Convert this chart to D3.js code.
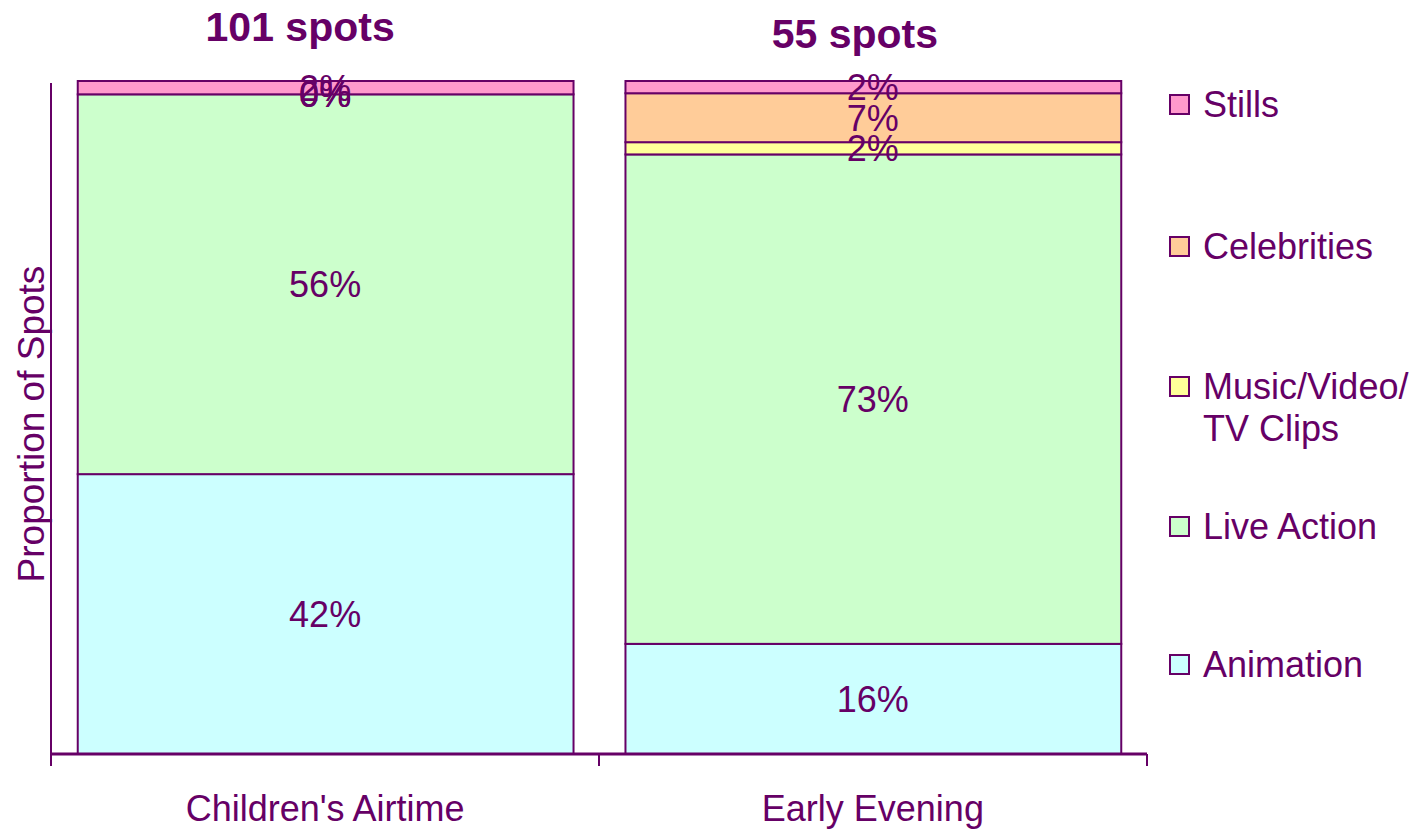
<!DOCTYPE html>
<html><head><meta charset="utf-8">
<script src="https://cdn.jsdelivr.net/npm/d3@7"></script>
<style>body{margin:0;background:#fff}svg{display:block}text{font-family:"Liberation Sans",Arial,sans-serif;fill:#660066}</style>
</head><body><svg id="c" width="1423" height="829"></svg>
<script>
const categories = ["Children's Airtime", "Early Evening"];
const totals = ["101 spots", "55 spots"];
const seriesNames = ["Animation", "Live Action", "Music/Video/TV Clips", "Celebrities", "Stills"];
const animation = [42, 9];
const liveAction = [57, 40];
const musicClips = [0, 1];
const celebrities = [0, 4];
const stills = [2, 1];
const spotCounts = [101, 55];
const legendLabels = [["Stills"], ["Celebrities"], ["Music/Video/", "TV Clips"], ["Live Action"], ["Animation"]];
const colors = ["#CCFFFF", "#CCFFCC", "#FFFF99", "#FFCC99", "#FF99CC"];

const svg = d3.select("#c");
const purple = "#660066";
const m = {left: 51, right: 1147, top: 81, bottom: 754};
const fs = 36;

const rows = categories.map((c, i) => {
  const o = {cat: c};
  const vals = [animation[i], liveAction[i], musicClips[i], celebrities[i], stills[i]];
  seriesNames.forEach((s, k) => o[s] = vals[k] / spotCounts[i]);
  return o;
});
const stack = d3.stack().keys(seriesNames)(rows);

const x = d3.scaleBand().domain(categories).range([m.left, m.right]).paddingInner(0.093).paddingOuter(0.047);
const y = d3.scaleLinear().domain([0, 1]).range([m.bottom, m.top]);

stack.forEach((layer, k) => {
  svg.append("g").selectAll("rect").data(layer).join("rect")
    .attr("x", d => x(d.data.cat) + 1)
    .attr("width", x.bandwidth() - 1)
    .attr("y", d => y(d[1]))
    .attr("height", d => y(d[0]) - y(d[1]))
    .attr("fill", colors[k]).attr("stroke", purple).attr("stroke-width", 2);
});
stack.forEach((layer, k) => {
  svg.append("g").selectAll("text").data(layer).join("text")
    .attr("x", d => x(d.data.cat) + x.bandwidth() / 2)
    .attr("y", d => (y(d[0]) + y(d[1])) / 2)
    .attr("dy", "0.36em")
    .attr("text-anchor", "middle").attr("font-size", fs)
    .text(d => Math.round((d[1] - d[0]) * 100) + "%");
});

// axes
svg.append("line").attr("x1", m.left).attr("x2", m.left).attr("y1", m.top + 2).attr("y2", m.bottom).attr("stroke", purple).attr("stroke-width", 2);
svg.append("line").attr("x1", m.left).attr("x2", m.right).attr("y1", m.bottom).attr("y2", m.bottom).attr("stroke", purple).attr("stroke-width", 3);
const ticks = [m.left, (x(categories[0]) + x.bandwidth() + x(categories[1])) / 2, m.right];
svg.append("g").selectAll("line").data(ticks).join("line")
  .attr("x1", d => d).attr("x2", d => d).attr("y1", m.bottom).attr("y2", m.bottom + 12)
  .attr("stroke", purple).attr("stroke-width", 2);
svg.append("g").selectAll("text").data(categories).join("text")
  .attr("x", d => x(d) + x.bandwidth() / 2).attr("y", 821)
  .attr("text-anchor", "middle").attr("font-size", fs).text(d => d);

// titles
const titleY = [41, 48];
const titleShift = [-25, -18];
svg.append("g").selectAll("text").data(totals).join("text")
  .attr("x", (d, i) => x(categories[i]) + x.bandwidth() / 2 + titleShift[i])
  .attr("y", (d, i) => titleY[i])
  .attr("text-anchor", "middle").attr("font-size", 41).attr("font-weight", "bold").text(d => d);

// y label
svg.append("text").attr("transform", "translate(44,424) rotate(-90)")
  .attr("text-anchor", "middle").attr("font-size", fs + 1).text("Proportion of Spots");

// legend
const legY = [104, 246, 386, 526, 664];
const lg = svg.append("g").selectAll("g").data(legendLabels).join("g")
  .attr("transform", (d, i) => `translate(1170,${legY[i]})`);
lg.append("rect").attr("x", 0).attr("y", -9).attr("width", 19).attr("height", 19)
  .attr("fill", (d, i) => colors[4 - i]).attr("stroke", purple).attr("stroke-width", 2);
lg.each(function(d) {
  const t = d3.select(this).append("text").attr("x", 33).attr("y", 0).attr("font-size", fs);
  d.forEach((line, j) => t.append("tspan").attr("x", 33).attr("dy", j === 0 ? "0.36em" : "1.17em").text(line));
});
</script></body></html>
